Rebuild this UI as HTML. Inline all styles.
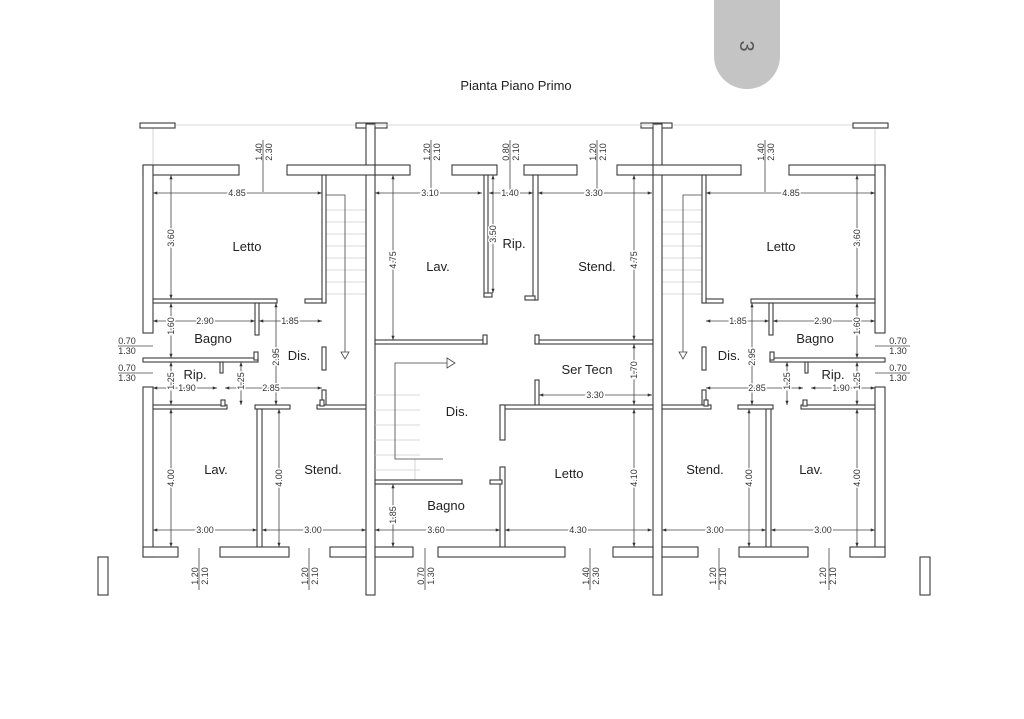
<!DOCTYPE html>
<html><head><meta charset="utf-8"><style>
html,body{margin:0;padding:0;background:#fff;}
svg{display:block;}
.w{fill:#fff;stroke:#3a3a3a;stroke-width:1.1;}
.d{stroke:#444;stroke-width:0.8;fill:none;}
.f{stroke:#ccc;stroke-width:0.8;fill:none;}
.t{font-family:"Liberation Sans",sans-serif;font-size:9px;fill:#333;stroke:#fff;stroke-width:3px;paint-order:stroke;}
.r{font-family:"Liberation Sans",sans-serif;font-size:13px;fill:#222;}
</style></head><body>
<svg width="1024" height="719" viewBox="0 0 1024 719" xmlns="http://www.w3.org/2000/svg">
<defs>
<marker id="a" viewBox="0 0 8 6" refX="8" refY="3" markerWidth="6" markerHeight="4" orient="auto-start-reverse"><path d="M0 0L8 3L0 6z" fill="#333"/></marker>
<g id="L">
<line class="f" x1="140" y1="125" x2="370" y2="125"/>
<line class="f" x1="153" y1="128" x2="153" y2="165"/>
<g class="f">
<line x1="326" y1="210" x2="366" y2="210"/><line x1="326" y1="222" x2="366" y2="222"/><line x1="326" y1="234" x2="366" y2="234"/><line x1="326" y1="246" x2="366" y2="246"/><line x1="326" y1="258" x2="366" y2="258"/><line x1="326" y1="270" x2="366" y2="270"/><line x1="326" y1="282" x2="366" y2="282"/><line x1="326" y1="294" x2="366" y2="294"/>
</g>
<polyline class="d" points="326,195 345,195 345,352"/>
<path d="M341 352L349 352L345 359z" fill="#fff" stroke="#444" stroke-width="0.8"/>
<rect class="w" x="140" y="123" width="35" height="5"/>
<rect class="w" x="356" y="123" width="31" height="5"/>
<rect class="w" x="366" y="124" width="9" height="471"/>
<rect class="w" x="143" y="165" width="96" height="10"/>
<rect class="w" x="287" y="165" width="88" height="10"/>
<rect class="w" x="143" y="165" width="10" height="168"/>
<rect class="w" x="143" y="387" width="10" height="170"/>
<rect class="w" x="153" y="299" width="124" height="4"/>
<rect class="w" x="305" y="299" width="21" height="4"/>
<rect class="w" x="322" y="175" width="4" height="128"/>
<rect class="w" x="322" y="347" width="4" height="23"/>
<rect class="w" x="322" y="390" width="4" height="17"/>
<rect class="w" x="255" y="303" width="4" height="32"/>
<rect class="w" x="143" y="358" width="115" height="4"/>
<rect class="w" x="254" y="352" width="4" height="8"/>
<rect class="w" x="220" y="362" width="3" height="11"/>
<rect class="w" x="153" y="405" width="74" height="4"/>
<rect class="w" x="221" y="400" width="4" height="6"/>
<rect class="w" x="255" y="405" width="35" height="4"/>
<rect class="w" x="317" y="405" width="49" height="4"/>
<rect class="w" x="320" y="400" width="4" height="6"/>
<rect class="w" x="257" y="409" width="5" height="138"/>
<rect class="w" x="143" y="547" width="35" height="10"/>
<rect class="w" x="220" y="547" width="69" height="10"/>
<rect class="w" x="330" y="547" width="36" height="10"/>
<rect class="w" x="98" y="557" width="10" height="38"/>
<line class="d" x1="118" y1="346" x2="153" y2="346"/>
<line class="d" x1="118" y1="373" x2="153" y2="373"/>
<g class="d" marker-start="url(#a)" marker-end="url(#a)">
<line x1="153" y1="193" x2="322" y2="193" marker-start="url(#a)" marker-end="url(#a)"/>
<line x1="171" y1="175" x2="171" y2="299" marker-start="url(#a)" marker-end="url(#a)"/>
<line x1="153" y1="321" x2="255" y2="321" marker-start="url(#a)" marker-end="url(#a)"/>
<line x1="259" y1="321" x2="322" y2="321" marker-start="url(#a)" marker-end="url(#a)"/>
<line x1="171" y1="303" x2="171" y2="358" marker-start="url(#a)" marker-end="url(#a)"/>
<line x1="276" y1="303" x2="276" y2="405" marker-start="url(#a)" marker-end="url(#a)"/>
<line x1="171" y1="362" x2="171" y2="405" marker-start="url(#a)" marker-end="url(#a)"/>
<line x1="241" y1="362" x2="241" y2="405" marker-start="url(#a)" marker-end="url(#a)"/>
<line x1="153" y1="388" x2="217" y2="388" marker-start="url(#a)" marker-end="url(#a)"/>
<line x1="225" y1="388" x2="322" y2="388" marker-start="url(#a)" marker-end="url(#a)"/>
<line x1="171" y1="409" x2="171" y2="547" marker-start="url(#a)" marker-end="url(#a)"/>
<line x1="279" y1="409" x2="279" y2="547" marker-start="url(#a)" marker-end="url(#a)"/>
<line x1="153" y1="530" x2="257" y2="530" marker-start="url(#a)" marker-end="url(#a)"/>
<line x1="262" y1="530" x2="366" y2="530" marker-start="url(#a)" marker-end="url(#a)"/>
</g>
<line class="d" x1="263" y1="140" x2="263" y2="192"/>
<line class="d" x1="199" y1="548" x2="199" y2="590"/>
<line class="d" x1="309" y1="548" x2="309" y2="590"/>
</g>
</defs>

<path d="M714 0H780V56A33 33 0 0 1 714 56Z" fill="#c4c4c4"/>
<text class="r" style="font-size:20px;fill:#555" transform="translate(740,46) rotate(90)" text-anchor="middle">3</text>
<text class="r" x="516" y="90" text-anchor="middle">Pianta Piano Primo</text>

<use href="#L"/>
<use href="#L" transform="translate(1028,0) scale(-1,1)"/>

<!-- central -->
<line class="f" x1="370" y1="125" x2="658" y2="125"/>
<g class="f">
<line x1="375" y1="395" x2="420" y2="395"/><line x1="375" y1="410" x2="420" y2="410"/><line x1="375" y1="425" x2="420" y2="425"/><line x1="375" y1="440" x2="420" y2="440"/><line x1="375" y1="455" x2="420" y2="455"/><line x1="375" y1="470" x2="420" y2="470"/><line x1="415" y1="459" x2="415" y2="480"/>
</g>
<polyline class="d" points="447,363 395,363 395,459 443,459"/>
<path d="M447 358L455 363L447 368z" fill="#fff" stroke="#444" stroke-width="0.8"/>
<rect class="w" x="375" y="165" width="35" height="10"/>
<rect class="w" x="452" y="165" width="45" height="10"/>
<rect class="w" x="524" y="165" width="53" height="10"/>
<rect class="w" x="617" y="165" width="36" height="10"/>
<rect class="w" x="484" y="175" width="4" height="122"/>
<rect class="w" x="484" y="293" width="8" height="4"/>
<rect class="w" x="533" y="175" width="5" height="125"/>
<rect class="w" x="525" y="296" width="10" height="4"/>
<rect class="w" x="375" y="340" width="112" height="4"/>
<rect class="w" x="483" y="335" width="4" height="9"/>
<rect class="w" x="535" y="340" width="118" height="4"/>
<rect class="w" x="535" y="335" width="4" height="9"/>
<rect class="w" x="535" y="380" width="4" height="27"/>
<rect class="w" x="500" y="405" width="153" height="4"/>
<rect class="w" x="500" y="405" width="5" height="35"/>
<rect class="w" x="500" y="467" width="5" height="81"/>
<rect class="w" x="375" y="480" width="87" height="4"/>
<rect class="w" x="490" y="480" width="12" height="4"/>
<rect class="w" x="375" y="547" width="38" height="10"/>
<rect class="w" x="438" y="547" width="127" height="10"/>
<rect class="w" x="613" y="547" width="40" height="10"/>
<g class="d">
<line x1="375" y1="193" x2="482" y2="193" marker-start="url(#a)" marker-end="url(#a)"/>
<line x1="489" y1="193" x2="533" y2="193" marker-start="url(#a)" marker-end="url(#a)"/>
<line x1="538" y1="193" x2="652" y2="193" marker-start="url(#a)" marker-end="url(#a)"/>
<line x1="393" y1="175" x2="393" y2="340" marker-start="url(#a)" marker-end="url(#a)"/>
<line x1="634" y1="175" x2="634" y2="340" marker-start="url(#a)" marker-end="url(#a)"/>
<line x1="493" y1="175" x2="493" y2="293" marker-start="url(#a)" marker-end="url(#a)"/>
<line x1="634" y1="344" x2="634" y2="405" marker-start="url(#a)" marker-end="url(#a)"/>
<line x1="539" y1="395" x2="652" y2="395" marker-start="url(#a)" marker-end="url(#a)"/>
<line x1="634" y1="409" x2="634" y2="547" marker-start="url(#a)" marker-end="url(#a)"/>
<line x1="393" y1="484" x2="393" y2="547" marker-start="url(#a)" marker-end="url(#a)"/>
<line x1="375" y1="530" x2="500" y2="530" marker-start="url(#a)" marker-end="url(#a)"/>
<line x1="505" y1="530" x2="652" y2="530" marker-start="url(#a)" marker-end="url(#a)"/>
<line x1="431" y1="140" x2="431" y2="192"/>
<line x1="510" y1="140" x2="510" y2="192"/>
<line x1="597" y1="140" x2="597" y2="192"/>
<line x1="425" y1="548" x2="425" y2="590"/>
<line x1="590" y1="548" x2="590" y2="590"/>
</g>

<!-- room labels -->
<text class="r" x="247" y="251" text-anchor="middle">Letto</text>
<text class="r" x="213" y="343" text-anchor="middle">Bagno</text>
<text class="r" x="195" y="379" text-anchor="middle">Rip.</text>
<text class="r" x="299" y="360" text-anchor="middle">Dis.</text>
<text class="r" x="216" y="474" text-anchor="middle">Lav.</text>
<text class="r" x="323" y="474" text-anchor="middle">Stend.</text>
<text class="r" x="781" y="251" text-anchor="middle">Letto</text>
<text class="r" x="815" y="343" text-anchor="middle">Bagno</text>
<text class="r" x="833" y="379" text-anchor="middle">Rip.</text>
<text class="r" x="729" y="360" text-anchor="middle">Dis.</text>
<text class="r" x="811" y="474" text-anchor="middle">Lav.</text>
<text class="r" x="705" y="474" text-anchor="middle">Stend.</text>
<text class="r" x="438" y="271" text-anchor="middle">Lav.</text>
<text class="r" x="514" y="248" text-anchor="middle">Rip.</text>
<text class="r" x="597" y="271" text-anchor="middle">Stend.</text>
<text class="r" x="587" y="374" text-anchor="middle">Ser Tecn</text>
<text class="r" x="457" y="416" text-anchor="middle">Dis.</text>
<text class="r" x="569" y="478" text-anchor="middle">Letto</text>
<text class="r" x="446" y="510" text-anchor="middle">Bagno</text>

<!-- horizontal dims -->
<g class="t" text-anchor="middle">
<text x="237" y="196">4.85</text><text x="205" y="324">2.90</text><text x="290" y="324">1.85</text>
<text x="187" y="391">1.90</text><text x="271" y="391">2.85</text>
<text x="205" y="533">3.00</text><text x="313" y="533">3.00</text>
<text x="791" y="196">4.85</text><text x="823" y="324">2.90</text><text x="738" y="324">1.85</text>
<text x="841" y="391">1.90</text><text x="757" y="391">2.85</text>
<text x="823" y="533">3.00</text><text x="715" y="533">3.00</text>
<text x="430" y="196">3.10</text><text x="510" y="196">1.40</text><text x="594" y="196">3.30</text>
<text x="595" y="398">3.30</text><text x="436" y="533">3.60</text><text x="578" y="533">4.30</text>
</g>
<g style="font-family:'Liberation Sans',sans-serif;font-size:9px;fill:#333" text-anchor="middle">
<text x="127" y="344">0.70</text><text x="127" y="354">1.30</text>
<text x="127" y="371">0.70</text><text x="127" y="381">1.30</text>
<text x="898" y="344">0.70</text><text x="898" y="354">1.30</text>
<text x="898" y="371">0.70</text><text x="898" y="381">1.30</text>
</g>
<!-- vertical dims -->
<g class="t" text-anchor="middle">
<text transform="translate(174,238) rotate(-90)">3.60</text>
<text transform="translate(174,326) rotate(-90)">1.60</text>
<text transform="translate(279,357) rotate(-90)">2.95</text>
<text transform="translate(174,381) rotate(-90)">1.25</text>
<text transform="translate(244,381) rotate(-90)">1.25</text>
<text transform="translate(174,478) rotate(-90)">4.00</text>
<text transform="translate(282,478) rotate(-90)">4.00</text>
<text transform="translate(860,238) rotate(-90)">3.60</text>
<text transform="translate(860,326) rotate(-90)">1.60</text>
<text transform="translate(755,357) rotate(-90)">2.95</text>
<text transform="translate(860,381) rotate(-90)">1.25</text>
<text transform="translate(790,381) rotate(-90)">1.25</text>
<text transform="translate(860,478) rotate(-90)">4.00</text>
<text transform="translate(752,478) rotate(-90)">4.00</text>
<text transform="translate(396,260) rotate(-90)">4.75</text>
<text transform="translate(637,260) rotate(-90)">4.75</text>
<text transform="translate(496,234) rotate(-90)">3.50</text>
<text transform="translate(637,370) rotate(-90)">1.70</text>
<text transform="translate(637,478) rotate(-90)">4.10</text>
<text transform="translate(396,515) rotate(-90)">1.85</text>
</g>
<!-- door labels -->
<g style="font-family:'Liberation Sans',sans-serif;font-size:9px;fill:#333" text-anchor="middle">
<text transform="translate(262,152) rotate(-90)">1.40</text><text transform="translate(272,152) rotate(-90)">2.30</text>
<text transform="translate(430,152) rotate(-90)">1.20</text><text transform="translate(440,152) rotate(-90)">2.10</text>
<text transform="translate(509,152) rotate(-90)">0.80</text><text transform="translate(519,152) rotate(-90)">2.10</text>
<text transform="translate(596,152) rotate(-90)">1.20</text><text transform="translate(606,152) rotate(-90)">2.10</text>
<text transform="translate(764,152) rotate(-90)">1.40</text><text transform="translate(774,152) rotate(-90)">2.30</text>
<text transform="translate(198,576) rotate(-90)">1.20</text><text transform="translate(208,576) rotate(-90)">2.10</text>
<text transform="translate(308,576) rotate(-90)">1.20</text><text transform="translate(318,576) rotate(-90)">2.10</text>
<text transform="translate(424,576) rotate(-90)">0.70</text><text transform="translate(434,576) rotate(-90)">1.30</text>
<text transform="translate(589,576) rotate(-90)">1.40</text><text transform="translate(599,576) rotate(-90)">2.30</text>
<text transform="translate(716,576) rotate(-90)">1.20</text><text transform="translate(726,576) rotate(-90)">2.10</text>
<text transform="translate(826,576) rotate(-90)">1.20</text><text transform="translate(836,576) rotate(-90)">2.10</text>
</g>
</svg>
</body></html>
